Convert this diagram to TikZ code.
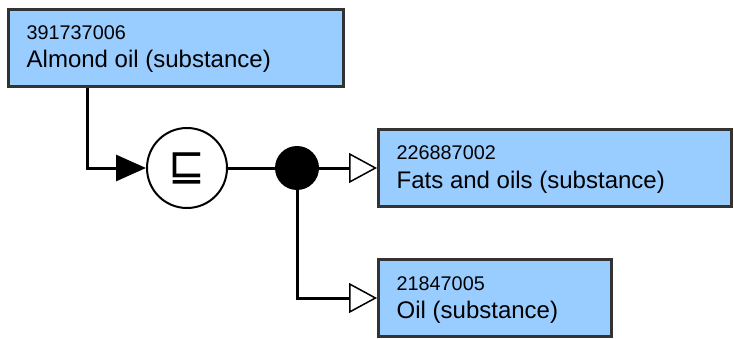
\documentclass[tikz,border=0pt]{standalone}
\usepackage{fontspec}
\setmainfont{Liberation Sans}
\newfontfamily\symfont{DejaVu Sans}
\usetikzlibrary{arrows.meta}
\definecolor{conceptblue}{HTML}{99CCFF}
\definecolor{conceptedge}{HTML}{333333}
\begin{document}
\begin{tikzpicture}[x=1pt, y=1pt, line join=miter,
		concept/.style={draw=conceptedge, line width=3pt, fill=conceptblue, minimum height=77pt, inner sep=0pt},
		idtext/.style={anchor=base west, inner sep=0pt, font=\fontsize{19.8}{20}\selectfont},
		nametext/.style={anchor=base west, inner sep=0pt, font=\fontsize{24}{24}\selectfont},
		link/.style={line width=3pt},
		isa/.style={link, -{Triangle[open, length=28pt, width=30pt, line width=1.5pt, fill=white]}}]
				\useasboundingbox (0,0) rectangle (734,338);
				% concepts
				\node[concept, minimum width=335pt] (almond) at (176,290) {};
				\node[idtext] (almond-id) at ([xshift=19.5pt, yshift=-31.5pt]almond.north west) {391737006};
				\node[nametext] (almond-name) at ([xshift=19.5pt, yshift=-59.5pt]almond.north west) {Almond oil (substance)};
				\node[concept, minimum width=353pt] (fats) at (555,170) {};
				\node[idtext] (fats-id) at ([xshift=19.5pt, yshift=-31.5pt]fats.north west) {226887002};
				\node[nametext] (fats-name) at ([xshift=19.5pt, yshift=-60.5pt]fats.north west) {Fats and oils (substance)};
				\node[concept, minimum width=233pt] (oil) at (495,40) {};
				\node[idtext] (oil-id) at ([xshift=19.5pt, yshift=-32.5pt]oil.north west) {21847005};
				\node[nametext] (oil-name) at ([xshift=19.5pt, yshift=-60.5pt]oil.north west) {Oil (substance)};
				% subsumption and conjunction
				\node[circle, draw, line width=2pt, fill=white, minimum size=80pt, inner sep=0pt] (subsumes) at (187,170) {\symfont\fontsize{44}{44}\selectfont ⊑};
				\node[circle, fill=black, minimum size=44pt, inner sep=0pt] (group) at (297,170) {};
				% connectors
				\draw[link, -{Triangle[length=30pt, width=26pt]}] ([xshift=80pt]almond.south west) |- (subsumes.west);
				\draw[link] (subsumes) -- (group);
				\draw[isa] (group) -- (fats.west);
				\draw[isa] (group) |- (oil.west);
			\end{tikzpicture}
\end{document}
